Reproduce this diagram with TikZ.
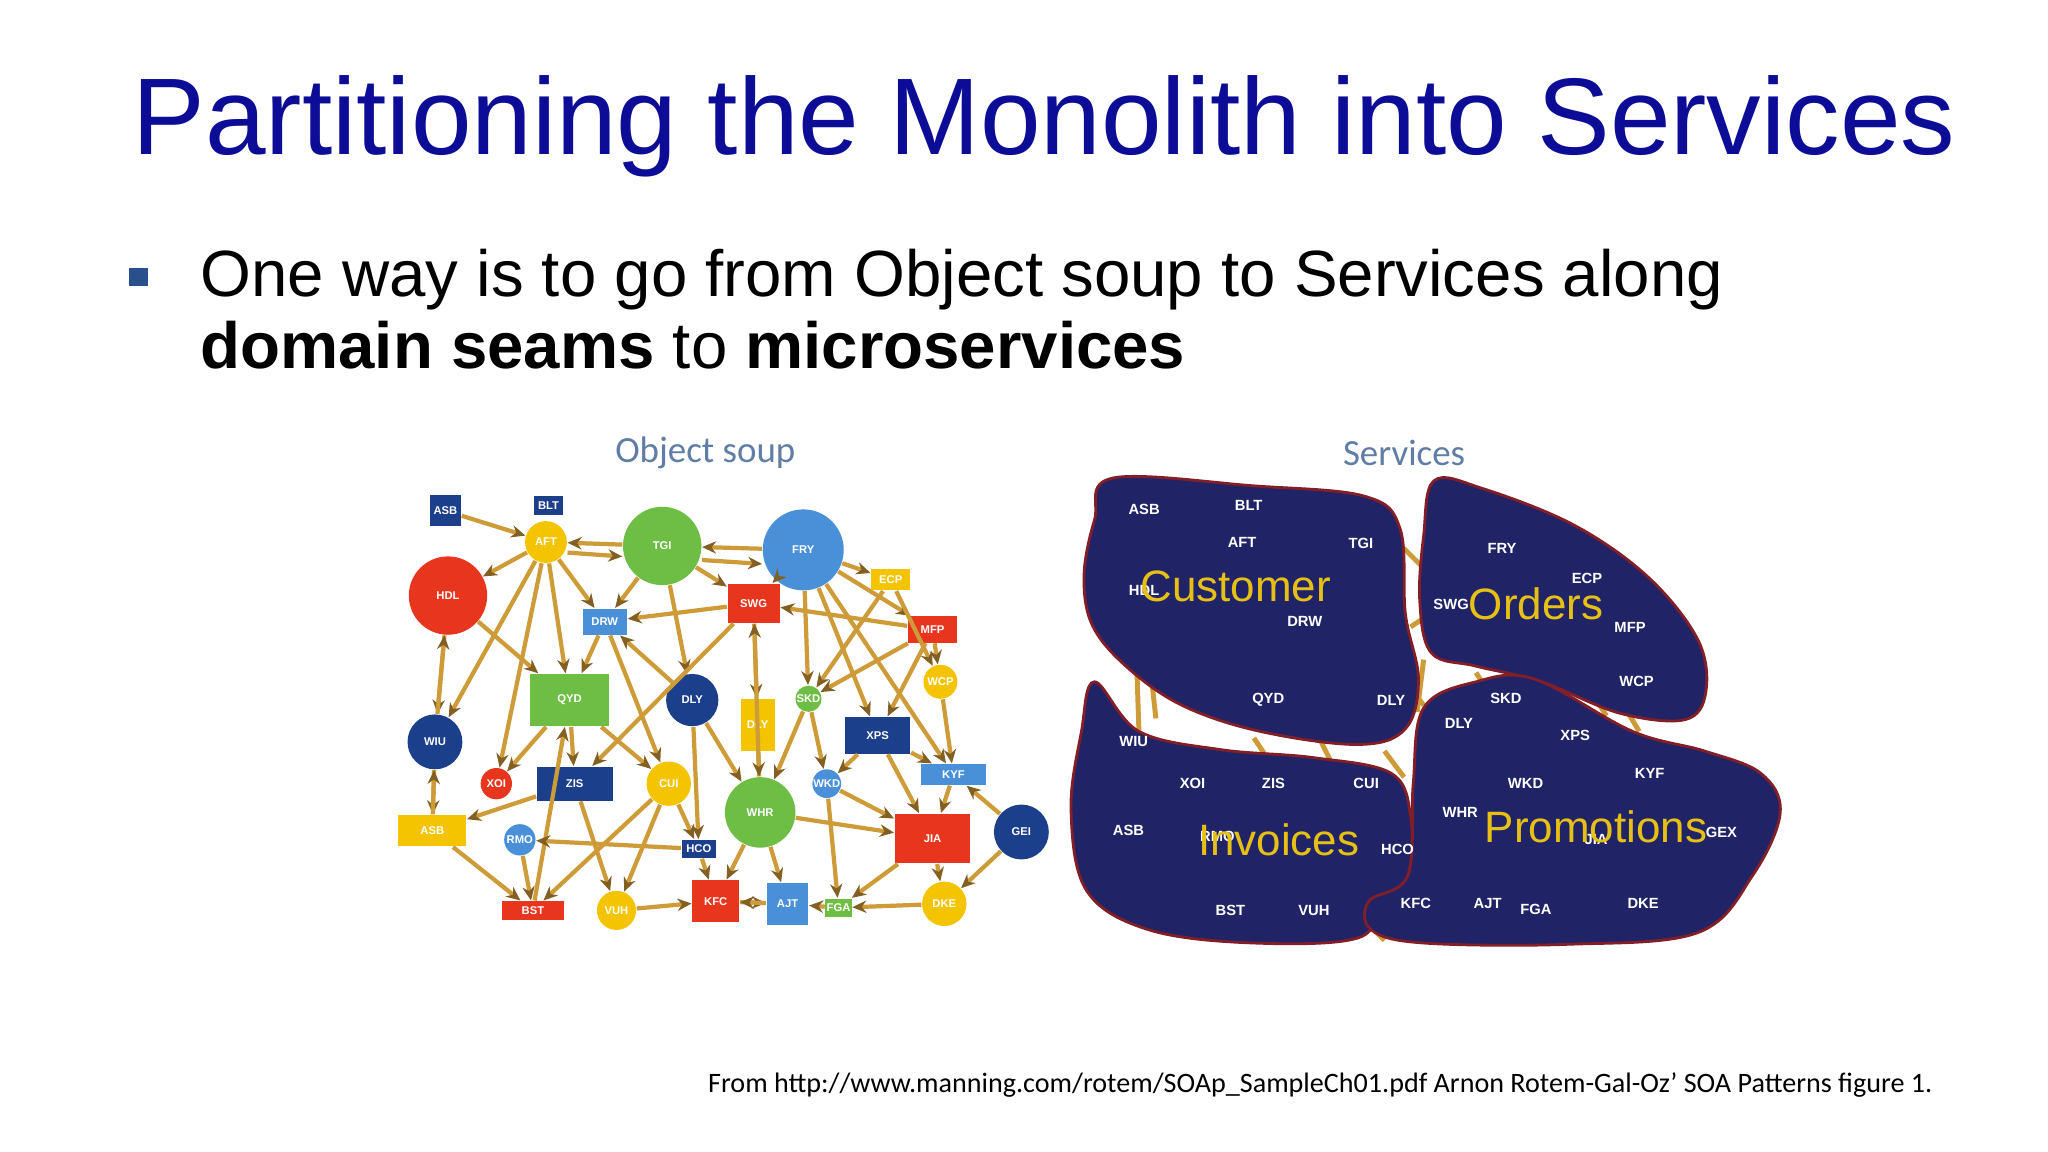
\documentclass[tikz,border=0pt]{standalone}
\usepackage{fontspec}
\setmainfont{Liberation Sans}
\newfontfamily\calfont{Carlito}
\usetikzlibrary{arrows.meta}
\definecolor{ttl}{RGB}{12,12,150}
\definecolor{bul}{RGB}{40,80,140}
\definecolor{cr}{RGB}{232,54,30}
\definecolor{cg}{RGB}{110,190,70}
\definecolor{cl}{RGB}{74,144,217}
\definecolor{cd}{RGB}{27,63,139}
\definecolor{cy}{RGB}{245,196,0}
\definecolor{ed}{RGB}{205,155,55}
\definecolor{eh}{RGB}{130,95,35}
\definecolor{blob}{RGB}{32,36,102}
\definecolor{blobe}{RGB}{130,30,40}
\definecolor{lab}{RGB}{230,192,20}
\definecolor{sub}{RGB}{95,125,165}
\tikzset{
 n/.style={inner sep=0pt,text=white,font=\fontsize{3.2}{3.2}\selectfont\bfseries},
 rb/.style 2 args={n,rectangle,minimum width=#1*0.3716pt,minimum height=#2*0.3716pt},
 cb/.style={n,circle,minimum size=2*#1*0.3716pt},
 e/.style={draw=ed,line width=1.2pt,-{Stealth[length=4pt,width=3.5pt,color=eh]}},
 sl/.style={text=white,font=\fontsize{4.2}{4.2}\selectfont\bfseries},
 bl/.style={text=lab,font=\fontsize{12.5}{12.5}\selectfont},
 bb/.style={fill=blob,draw=blobe,line width=0.8pt},
}
\begin{document}
\begin{tikzpicture}[x=0.01306cm,y=-0.01306cm]
\useasboundingbox (0,0) rectangle (1568,882);
\fill[white] (0,0) rectangle (1568,882);
\node[anchor=west,text=ttl,font=\fontsize{31}{31}\selectfont] (title) at (92,97) {Partitioning the Monolith into Services};
\node[fill=bul,minimum size=14*0.3716pt,inner sep=0pt] (bsq) at (106,212) {};
\node[anchor=north west,align=left,font=\fontsize{18.6}{20.5}\selectfont,inner sep=0pt] (btxt) at (153,190) {One way is to go from Object soup to Services along\\\textbf{domain seams} to \textbf{microservices}};
\node[anchor=east,font=\calfont\fontsize{8}{8}\selectfont] (foot) at (1489,831) {From http://www.manning.com/rotem/SOAp\_SampleCh01.pdf Arnon Rotem-Gal-Oz’ SOA Patterns figure 1.};
\node[text=sub,font=\calfont\fontsize{10.5}{10.5}\selectfont] (os) at (540,347) {Object soup};
\node[text=sub,font=\calfont\fontsize{10.5}{10.5}\selectfont] (sv) at (1075,347) {Services};
% object soup nodes
\node[rb={24}{24},fill=cd] (asb) at (341,391) {ASB};
\node[rb={22}{14},fill=cd] (blt) at (420,387) {BLT};
\node[cb=16,fill=cy] (aft) at (418,415) {AFT};
\node[cb=30,fill=cg] (tgi) at (507,418) {TGI};
\node[cb=31,fill=cl] (fry) at (615,421) {FRY};
\node[cb=30,fill=cr] (hdl) at (343,456) {HDL};
\node[rb={30}{16},fill=cy] (ecp) at (682,444) {ECP};
\node[rb={34}{20},fill=cl] (drw) at (463,476) {DRW};
\node[rb={40}{30},fill=cr] (swg) at (577,462) {SWG};
\node[rb={38}{20},fill=cr] (mfp) at (714,482) {MFP};
\node[rb={60}{40},fill=cg] (qyd) at (436,536) {QYD};
\node[cb=20,fill=cd] (dly) at (530,536) {DLY};
\node[rb={26}{40},fill=cy] (dlyb) at (580,555) {DLY};
\node[cb=10,fill=cg] (skd) at (619,535) {SKD};
\node[cb=13,fill=cy] (wcp) at (720,522) {WCP};
\node[rb={50}{28},fill=cd] (xps) at (672,563) {XPS};
\node[cb=21,fill=cd] (wiu) at (333,568) {WIU};
\node[cb=12,fill=cr] (xoi) at (380,600) {XOI};
\node[rb={58}{26},fill=cd] (zis) at (440,600) {ZIS};
\node[cb=17,fill=cy] (cui) at (512,600) {CUI};
\node[cb=11,fill=cl] (wkd) at (633,600) {WKD};
\node[rb={50}{16},fill=cl] (kyf) at (730,593) {KYF};
\node[cb=27,fill=cg] (whr) at (582,622) {WHR};
\node[rb={52}{24},fill=cy] (asbb) at (331,636) {ASB};
\node[cb=12,fill=cl] (rmo) at (398,643) {RMO};
\node[rb={26}{14},fill=cd] (hco) at (535,650) {HCO};
\node[rb={58}{38},fill=cr] (jia) at (714,642) {JIA};
\node[cb=21,fill=cd] (gex) at (782,637) {GEI};
\node[rb={48}{14},fill=cr] (bst) at (408,697) {BST};
\node[cb=15,fill=cy] (vuh) at (472,697) {VUH};
\node[rb={36}{32},fill=cr] (kfc) at (548,690) {KFC};
\node[rb={32}{32},fill=cl] (ajt) at (603,692) {AJT};
\node[rb={20}{14},fill=cg] (fga) at (642,695) {FGA};
\node[cb=17,fill=cy] (dke) at (723,692) {DKE};
\foreach \a/\b in {asb/aft,tgi/aft,fry/tgi,aft/hdl,aft/drw,aft/qyd,aft/xoi,aft/wiu,tgi/drw,tgi/swg,tgi/dly,fry/swg,fry/ecp,fry/mfp,fry/skd,fry/xps,fry/kyf,ecp/skd,ecp/wcp,mfp/swg,mfp/wcp,mfp/xps,mfp/skd,swg/drw,swg/dlyb,swg/zis,whr/swg,drw/qyd,drw/cui,dly/drw,hdl/qyd,hdl/wiu,wiu/hdl,wiu/asbb,asbb/wiu,qyd/zis,qyd/xoi,qyd/cui,bst/qyd,zis/asbb,zis/vuh,cui/bst,cui/vuh,cui/hco,dly/hco,dly/whr,dlyb/whr,skd/wkd,skd/whr,xps/wkd,xps/jia,xps/kyf,wcp/kyf,kyf/jia,gex/kyf,gex/dke,jia/dke,jia/fga,wkd/jia,whr/jia,wkd/fga,whr/kfc,whr/ajt,hco/kfc,hco/rmo,rmo/bst,asbb/bst,vuh/kfc,kfc/ajt,ajt/kfc,fga/ajt,dke/fga}
  \draw[e] (\a) -- (\b);
\draw[e] ([yshift=-3pt]aft.east) -- ([yshift=-3pt]tgi.west);
\draw[e] ([yshift=-4pt]tgi.east) -- ([yshift=-4pt]fry.west);
% services: connectors in gaps
\foreach \p/\q in {{(870,500)}/{(872,560)},{(880,505)}/{(885,550)},{(1075,420)}/{(1095,440)},{(1080,480)}/{(1095,470)},{(1075,520)}/{(1090,540)},{(1090,505)}/{(1085,545)},{(960,565)}/{(970,580)},{(1010,565)}/{(1020,585)},{(1060,575)}/{(1075,595)},{(1130,515)}/{(1140,530)},{(1160,510)}/{(1165,525)},{(1190,515)}/{(1200,535)},{(1215,525)}/{(1230,548)},{(1240,535)}/{(1255,560)},{(1040,700)}/{(1060,720)}}
  \draw[ed,line width=1.4pt] \p -- \q;
% blobs
\draw[bb] plot[smooth cycle,tension=0.6] coordinates {(852,366) (960,372) (1045,380) (1072,405) (1076,470) (1086,520) (1076,558) (1040,570) (965,560) (905,540) (862,510) (836,478) (830,440) (838,398)};
\draw[bb] plot[smooth cycle,tension=0.6] coordinates {(1098,368) (1135,374) (1205,402) (1262,442) (1300,490) (1306,530) (1290,551) (1240,546) (1180,522) (1130,510) (1096,500) (1087,460) (1090,410)};
\draw[bb] plot[smooth cycle,tension=0.6] coordinates {(838,522) (872,560) (935,574) (1005,580) (1065,592) (1080,625) (1078,670) (1058,690) (1040,718) (960,722) (880,712) (832,682) (820,620) (828,560)};
\draw[bb] plot[smooth cycle,tension=0.6] coordinates {(1090,542) (1130,522) (1175,520) (1250,560) (1305,575) (1348,592) (1363,622) (1342,670) (1300,714) (1200,723) (1090,722) (1050,712) (1048,690) (1078,670) (1082,600)};
\foreach \t/\x/\y in {ASB/876/390,BLT/956/387,AFT/951/415,TGI/1042/416,HDL/876/452,DRW/999/476,QYD/971/536,DLY/1065/536,FRY/1150/420,ECP/1215/443,SWG/1111/463,MFP/1248/480,WCP/1253/522,WIU/868/568,XOI/913/600,ZIS/975/600,CUI/1046/600,ASB/864/636,RMO/932/640,HCO/1070/650,BST/942/697,VUH/1006/697,SKD/1153/535,DLY/1117/554,XPS/1206/563,KYF/1263/592,WKD/1168/600,WHR/1118/622,JIA/1222/643,GEX/1318/637,KFC/1084/692,AJT/1139/692,FGA/1176/696,DKE/1258/692}
  \node[sl] at (\x,\y) {\t};
\node[bl] (cust) at (946,449) {Customer};
\node[bl] (ord) at (1176,462) {Orders};
\node[bl] (inv) at (979,643) {Invoices};
\node[bl] (prom) at (1222,633) {Promotions};
\end{tikzpicture}
\end{document}
